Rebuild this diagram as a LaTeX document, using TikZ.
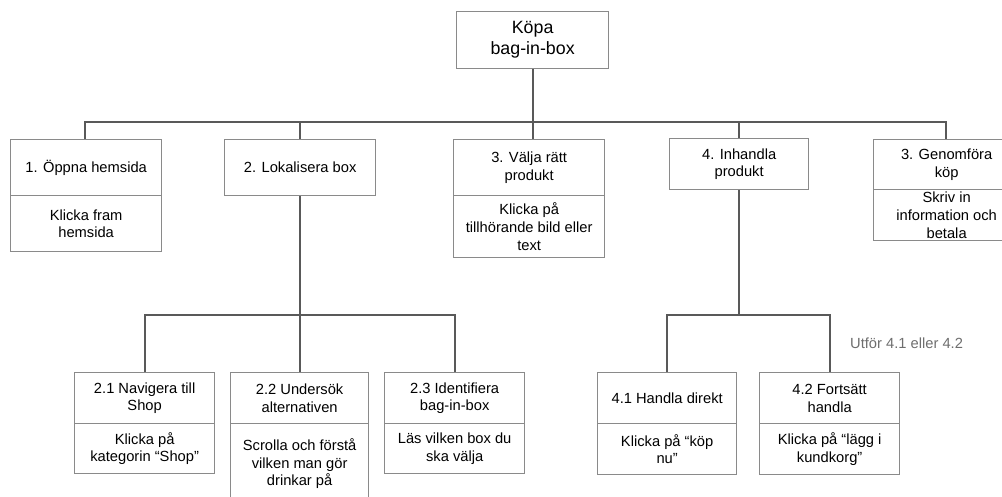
\documentclass[tikz,border=0pt]{standalone}
\usepackage{fontspec}
\setmainfont{Liberation Sans}
\definecolor{boxgray}{HTML}{8A8A8A}
\definecolor{linegray}{HTML}{595959}
\definecolor{labelgray}{HTML}{6E6E6E}
\begin{document}
\begin{tikzpicture}[x=1pt,y=-1pt,
  cell/.style={draw=boxgray, line width=1.3pt, fill=white, anchor=north west, inner sep=0pt, align=center,
    font=\fontsize{14.7}{17.6}\selectfont},
  conn/.style={draw=linegray, line width=2.2pt},
  topcell/.style={cell, font=\fontsize{17.8}{21}\selectfont}]
\useasboundingbox (0,0) rectangle (1002,497);
\clip (0,0) rectangle (1002,497);
% root
\node[topcell, minimum width=152pt, minimum height=57pt] (root) at (456,11) {Köpa\\bag-in-box};
% level 1
\node[cell, minimum width=151pt, minimum height=56pt] (b1) at (10,139) {1. Öppna hemsida};
\node[cell, minimum width=151pt, minimum height=56pt] (b1d) at (10,195) {Klicka fram\\hemsida};
\node[cell, minimum width=151pt, minimum height=56pt] (b2) at (224,139) {2. Lokalisera box};
\node[cell, minimum width=151pt, minimum height=56pt] (b3) at (453,139) {3. Välja rätt\\produkt};
\node[cell, minimum width=151pt, minimum height=62pt] (b3d) at (453,195) {Klicka på\\tillhörande bild eller\\text};
\node[cell, minimum width=139pt, minimum height=51pt] (b4) at (669,138) {4. Inhandla\\produkt};
\node[cell, minimum width=146pt, minimum height=50pt] (b5) at (873,139) {3. Genomföra\\köp};
\node[cell, minimum width=146pt, minimum height=51pt] (b5d) at (873,189) {Skriv in\\information och\\betala};
% level 2 under box 2
\node[cell, minimum width=140pt, minimum height=51pt] (c1) at (74,372) {2.1 Navigera till\\Shop};
\node[cell, minimum width=140pt, minimum height=50pt] (c1d) at (74,423) {Klicka på\\kategorin “Shop”};
\node[cell, minimum width=138pt, minimum height=51pt] (c2) at (230,372) {2.2 Undersök\\alternativen};
\node[cell, minimum width=138pt, minimum height=80pt] (c2d) at (230,423) {Scrolla och förstå\\vilken man gör\\drinkar på};
\node[cell, minimum width=140pt, minimum height=51pt] (c3) at (384,372) {2.3 Identifiera\\bag-in-box};
\node[cell, minimum width=140pt, minimum height=50pt] (c3d) at (384,423) {Läs vilken box du\\ska välja};
% level 2 under box 4
\node[cell, minimum width=139pt, minimum height=51pt] (d1) at (597,372) {4.1 Handla direkt};
\node[cell, minimum width=139pt, minimum height=51pt] (d1d) at (597,423) {Klicka på “köp\\nu”};
\node[cell, minimum width=140pt, minimum height=51pt] (d2) at (759,372) {4.2 Fortsätt\\handla};
\node[cell, minimum width=140pt, minimum height=51pt] (d2d) at (759,423) {Klicka på “lägg i\\kundkorg”};
\node[anchor=west, inner sep=0pt, text=labelgray, font=\fontsize{14.7}{17.6}\selectfont] (note) at (850,343) {Utför 4.1 eller 4.2};
% connectors level 1
\coordinate (bus) at (532,122);
\draw[conn] (root.south) -- (root.south |- b3.north);
\draw[conn] (b1.north -| 85,0) |- (bus) -| (b5.north -| 946,0);
\draw[conn] (b2.north) -- (b2.north |- bus);
\draw[conn] (b4.north -| 739,0) -- (739,122);
% connectors level 2 (box 2)
\coordinate (bus2) at (299,315);
\draw[conn] (b2.south) -- (b2.south |- c2.north);
\draw[conn] (c1.north) |- (bus2) -| (c3.north);
% connectors level 2 (box 4)
\coordinate (bus4) at (739,315);
\draw[conn] (b4.south -| 739,0) -- (bus4);
\draw[conn] (d1.north) |- (bus4) -| (d2.north);
\end{tikzpicture}
\end{document}
